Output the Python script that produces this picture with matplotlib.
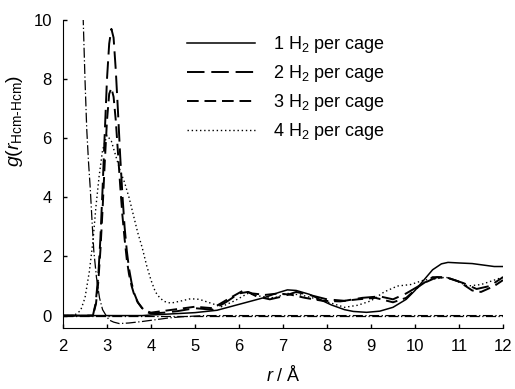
import matplotlib
matplotlib.use('Agg')
import matplotlib.pyplot as plt

plt.rcParams['font.family'] = ['Liberation Sans', 'DejaVu Sans']
plt.rcParams['mathtext.fontset'] = 'custom'
plt.rcParams['mathtext.rm'] = 'Liberation Sans'
plt.rcParams['mathtext.it'] = 'Liberation Sans:italic'
plt.rcParams['font.size'] = 12

# 1 H2 per cage (solid)
r1 = [2.0, 3.8, 4.0, 4.5, 5.0, 5.5, 6.0, 6.3, 6.6, 6.9, 7.1, 7.3, 7.6, 7.9, 8.1,
      8.4, 8.6, 8.9, 9.2, 9.5, 9.8, 10.0, 10.2, 10.4, 10.6, 10.75, 11.0, 11.3, 11.6, 11.8, 12.0]
g1 = [0.0, 0.0, 0.02, 0.06, 0.1, 0.18, 0.38, 0.5, 0.62, 0.78, 0.87, 0.85, 0.72, 0.5, 0.36,
      0.2, 0.14, 0.11, 0.15, 0.28, 0.55, 0.85, 1.2, 1.55, 1.75, 1.8, 1.78, 1.76, 1.7, 1.66, 1.66]

# 2 H2 per cage (long dash)
r2 = [2.0, 2.68, 2.74, 2.8, 2.85, 2.9, 2.95, 3.0, 3.05, 3.1, 3.15, 3.2, 3.25, 3.3, 3.35,
      3.4, 3.45, 3.5, 3.56, 3.62, 3.7, 3.8, 3.9, 4.0, 4.3, 4.6, 5.0, 5.4, 5.7, 6.0, 6.2,
      6.4, 6.7, 7.0, 7.3, 7.6, 8.0, 8.4, 8.8, 9.2, 9.5, 9.8, 10.2, 10.5, 10.8, 11.1, 11.4,
      11.7, 12.0]
g2 = [0.0, 0.0, 0.4, 1.3, 2.6, 4.3, 6.2, 8.0, 9.2, 9.7, 9.4, 8.3, 6.9, 5.4, 4.1,
      3.0, 2.2, 1.6, 1.1, 0.75, 0.45, 0.25, 0.12, 0.07, 0.1, 0.15, 0.25, 0.2, 0.45, 0.75, 0.8,
      0.65, 0.55, 0.65, 0.8, 0.7, 0.55, 0.5, 0.6, 0.65, 0.55, 0.75, 1.1, 1.3, 1.25, 1.1, 0.9,
      1.0, 1.3]

# 3 H2 per cage (medium dash)
r3 = [2.0, 2.68, 2.75, 2.8, 2.85, 2.9, 2.95, 3.0, 3.05, 3.1, 3.15, 3.2, 3.25, 3.3, 3.35,
      3.4, 3.45, 3.5, 3.56, 3.62, 3.7, 3.8, 3.9, 4.0, 4.5, 5.0, 5.4, 5.8, 6.1, 6.3, 6.6,
      6.9, 7.2, 7.5, 7.9, 8.3, 8.7, 9.1, 9.5, 9.8, 10.1, 10.4, 10.7, 11.0, 11.3, 11.5,
      11.8, 12.0]
g3 = [0.0, 0.0, 0.4, 1.1, 2.2, 3.6, 5.2, 6.6, 7.5, 7.7, 7.4, 6.6, 5.5, 4.4, 3.4,
      2.6, 1.9, 1.4, 1.0, 0.7, 0.45, 0.25, 0.15, 0.1, 0.2, 0.3, 0.25, 0.6, 0.85, 0.75, 0.7,
      0.75, 0.7, 0.6, 0.5, 0.48, 0.55, 0.6, 0.45, 0.6, 1.0, 1.3, 1.3, 1.15, 0.85, 0.8,
      1.0, 1.2]

# 4 H2 per cage (dotted)
r4 = [2.0, 2.25, 2.4, 2.5, 2.6, 2.68, 2.75, 2.82, 2.9, 3.0, 3.1, 3.2, 3.3, 3.4, 3.5,
      3.6, 3.7, 3.8, 3.9, 4.0, 4.1, 4.2, 4.3, 4.45, 4.7, 4.9, 5.1, 5.3, 5.6, 5.9, 6.2,
      6.5, 6.8, 7.1, 7.4, 7.8, 8.1, 8.4, 8.7, 9.0, 9.3, 9.6, 9.9, 10.2, 10.5, 10.7, 10.9,
      11.2, 11.5, 11.8, 12.0]
g4 = [0.0, 0.0, 0.17, 0.6, 1.5, 2.5, 3.7, 4.7, 5.6, 6.1, 5.9, 5.4, 4.9, 4.5, 4.0,
      3.4, 2.8, 2.3, 1.7, 1.2, 0.8, 0.6, 0.48, 0.42, 0.5, 0.57, 0.55, 0.45, 0.3, 0.5, 0.75,
      0.65, 0.6, 0.75, 0.7, 0.55, 0.42, 0.28, 0.35, 0.5, 0.8, 1.0, 1.05, 1.2, 1.25, 1.3, 1.2,
      1.0, 1.05, 1.2, 1.3]

# reference curve (dash-dot, not in legend)
r5 = [2.42, 2.46, 2.5, 2.54, 2.58, 2.62, 2.66, 2.7, 2.76, 2.83, 2.9, 2.98, 3.05, 3.15,
      3.28, 3.5, 3.8, 4.1, 4.4, 4.7, 5.2, 12.0]
g5 = [12.0, 10.0, 8.0, 6.3, 5.2, 4.3, 3.2, 2.2, 1.3, 0.6, 0.2, 0.0, -0.15, -0.22,
      -0.27, -0.25, -0.2, -0.14, -0.08, -0.04, 0.0, 0.0]

labels = ['1 H$_2$ per cage', '2 H$_2$ per cage', '3 H$_2$ per cage', '4 H$_2$ per cage']

fig = plt.figure(figsize=(5.15, 3.89), dpi=100)
ax = fig.add_axes([0.1223, 0.1568, 0.8544, 0.7918])

dashdot = (0, (8, 2, 1, 2))
ax.plot([2, 12], [0, 0], color='black', linewidth=0.9, linestyle=dashdot)
ax.plot(r1, g1, color='black', linewidth=1.1, linestyle='-', label=labels[0])
ax.plot(r2, g2, color='black', linewidth=1.4, linestyle=(0, (9, 3.5)), label=labels[1])
ax.plot(r3, g3, color='black', linewidth=1.4, linestyle=(0, (6, 3)), label=labels[2])
ax.plot(r4, g4, color='black', linewidth=1.0, linestyle=(0, (1, 2)), label=labels[3])
ax.plot(r5, g5, color='black', linewidth=0.9, linestyle=dashdot)

ax.set_xlim(2, 12)
ax.set_ylim(-0.42, 10)
ax.set_xticks(range(2, 13))
ax.set_yticks(range(0, 11, 2))
ax.spines['top'].set_visible(False)
ax.spines['right'].set_visible(False)
ax.tick_params(direction='in', length=3, width=1, pad=8)

ax.set_xlabel('$r$ / Å', fontsize=13, labelpad=8)
ax.set_ylabel(r'$g$($r_{\mathrm{Hcm}\text{-}\mathrm{Hcm}}$)', fontsize=14)
ax.yaxis.set_label_coords(-0.086, 0.672)

ax.legend(loc='upper left', bbox_to_anchor=(0.282, 0.955), frameon=False, fontsize=13,
          handlelength=3.77, handletextpad=1.0, labelspacing=0.45, borderpad=0,
          borderaxespad=0)

fig.savefig('out.png', dpi=100)
